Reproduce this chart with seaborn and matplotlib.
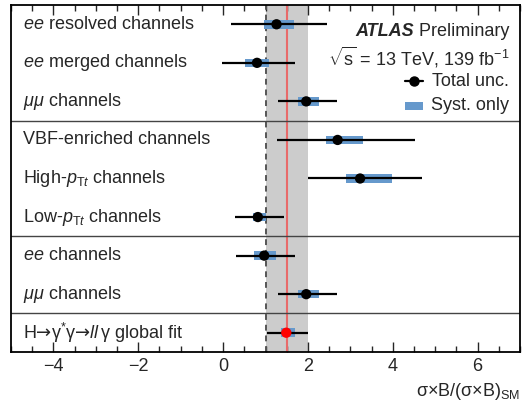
import matplotlib
matplotlib.use("Agg")
import matplotlib.pyplot as plt
import seaborn as sns
import pandas as pd
from matplotlib.ticker import MultipleLocator

labels = [
    r"$ee$ resolved channels",
    r"$ee$ merged channels",
    r"$\mu\mu$ channels",
    "VBF-enriched channels",
    r"High-$p_{\mathregular{T}t}$ channels",
    r"Low-$p_{\mathregular{T}t}$ channels",
    r"$ee$ channels",
    r"$\mu\mu$ channels",
    r"H$\mathsf{→}$γ$^{*}$γ$\mathsf{→}$$ll\,$γ global fit",
]
central = [1.26, 0.80, 1.96, 2.70, 3.23, 0.82, 0.97, 1.96, 1.49]
tot_lo = [0.19, -0.02, 1.30, 1.27, 2.01, 0.27, 0.30, 1.29, 1.03]
tot_hi = [2.45, 1.70, 2.69, 4.52, 4.70, 1.43, 1.70, 2.68, 2.01]
syst_lo = [0.97, 0.51, 1.77, 2.43, 2.90, 0.70, 0.73, 1.77, 1.36]
syst_hi = [1.67, 1.09, 2.26, 3.29, 3.98, 1.01, 1.25, 2.26, 1.70]
is_global = [False] * 8 + [True]
band_lo, band_hi = 1.0, 2.0
sm_value = 1.0
global_mu = 1.5
separators = [2.5, 5.5, 7.5]

df = pd.DataFrame({"row": range(len(labels)), "label": labels, "mu": central,
                   "tlo": tot_lo, "thi": tot_hi, "slo": syst_lo, "shi": syst_hi,
                   "glob": is_global})

sns.set_style("ticks")
plt.rcParams["font.family"] = ["Liberation Sans", "DejaVu Sans"]
plt.rcParams["mathtext.fontset"] = "custom"
plt.rcParams["mathtext.rm"] = "Liberation Sans"
plt.rcParams["mathtext.it"] = "Liberation Sans:italic"
plt.rcParams["mathtext.bf"] = "Liberation Sans:bold"
plt.rcParams["mathtext.sf"] = "DejaVu Sans"

W, H = 522, 405
fig = plt.figure(figsize=(W / 100, H / 100), dpi=100)
ax = fig.add_axes([11 / W, 1 - 352 / H, 509 / W, 347 / H])

FS = 13
blue = "#6699cc"

ax.axvspan(band_lo, band_hi, color="#cccccc", zorder=0, lw=0)
ax.axvline(sm_value, color="#555555", ls=(0, (3, 2.5)), lw=1.4, zorder=1)
ax.axvline(global_mu, color="#e86a6a", lw=1.5, zorder=1)
for s in separators:
    ax.axhline(s, color="#444444", lw=1.0, zorder=1)

# syst boxes
ax.barh(df["row"], df["shi"] - df["slo"], left=df["slo"], height=0.22,
        color=blue, lw=0, zorder=2)
# total unc lines
ax.hlines(df["row"], df["tlo"], df["thi"], color="black", lw=1.6, zorder=3)
# central points
sns.scatterplot(data=df, x="mu", y="row", hue="glob",
                palette={False: "black", True: "red"}, s=55, linewidth=0,
                legend=False, zorder=4, ax=ax)

for r, lab in zip(df["row"], df["label"]):
    ax.text(-4.72, r, lab, fontsize=FS, va="center", ha="left", zorder=5)

ax.set_xlim(-5, 7)
ax.set_ylim(8.5, -0.5)
ax.set_yticks([])
ax.set_ylabel("")
ax.set_xlabel("")
ax.xaxis.set_major_locator(MultipleLocator(2))
ax.xaxis.set_minor_locator(MultipleLocator(0.5))
ax.tick_params(axis="x", which="major", direction="in", top=True, length=7,
               width=1, labelsize=FS, pad=4)
ax.tick_params(axis="x", which="minor", direction="in", top=True, length=4, width=1)
for sp in ax.spines.values():
    sp.set_linewidth(1.3)
    sp.set_color("black")

def px(x, y):
    return x / W, 1 - y / H

fig.text(*px(520, 392), r"σ×B/(σ×B)$_{\mathregular{SM}}$", fontsize=FS,
         ha="right", va="center")

prel = fig.text(*px(509, 31), " Preliminary", fontsize=FS, ha="right", va="center")
fig.canvas.draw()
bb = prel.get_window_extent(renderer=fig.canvas.get_renderer())
fig.text(bb.x0 / W, 1 - 31 / H, "ATLAS", fontsize=FS, fontweight="bold",
         fontstyle="italic", ha="right", va="center")
fig.text(*px(509, 57), r"$\sqrt{\mathregular{s}}$ = 13 TeV, 139 fb$^{-1}$",
         fontsize=FS, ha="right", va="center")
fig.text(*px(509, 81), "Total unc.", fontsize=FS, ha="right", va="center")
fig.text(*px(509, 106), "Syst. only", fontsize=FS, ha="right", va="center")

# legend symbols in pixel space
lx0, lx1 = 405, 423
inv = ax.transData.inverted()
(dx0, dy0) = inv.transform((lx0, H - 81))
(dx1, _) = inv.transform((lx1, H - 81))
(_, dy1) = inv.transform((lx0, H - 106))
ax.plot([dx0, dx1], [dy0, dy0], color="black", lw=1.6, zorder=5)
ax.plot([(dx0 + dx1) / 2], [dy0], "o", color="black", ms=6.5, zorder=6)
ax.barh([dy1], [dx1 - dx0], left=dx0, height=0.22, color=blue, lw=0, zorder=5)

fig.savefig("out.png", dpi=100)
